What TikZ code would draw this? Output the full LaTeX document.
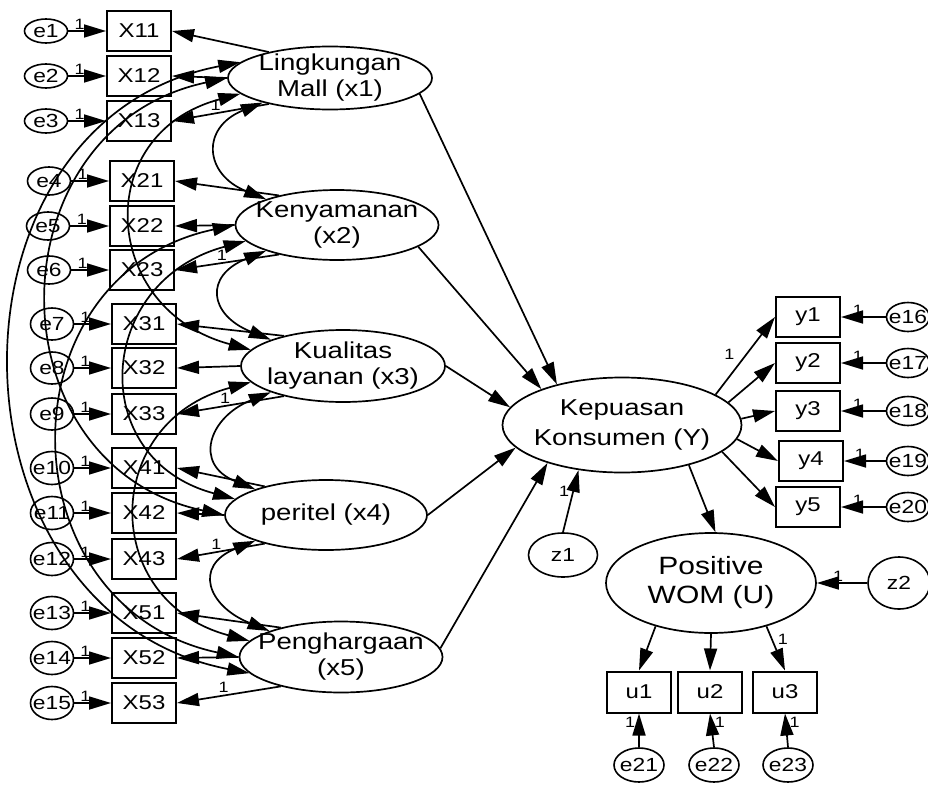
\documentclass[tikz,border=0pt]{standalone}
\usepackage{fontspec}
\setmainfont{Liberation Sans}[FakeStretch=1.2]
\usetikzlibrary{shapes.geometric,arrows.meta,positioning}
\tikzset{
  amos/.tip={Triangle[length=22pt,width=13pt]},
  arr/.style={-amos},
  cov/.style={amos-amos},
  obs/.style={draw,rectangle,minimum width=64pt,minimum height=40pt,inner sep=0pt,line width=2pt,font=\fontsize{20}{22}\selectfont},
  err/.style={draw,ellipse,minimum width=43pt,minimum height=30pt,inner sep=0pt,line width=1.6pt},
  lat/.style={draw,ellipse,inner sep=0pt,line width=1.7pt},
  etxt/.style={font=\fontsize{19}{21}\selectfont,inner sep=0pt},
  lattxt/.style={font=\fontsize{23}{26}\selectfont,align=center,inner sep=0pt},
  one/.style={font=\fontsize{15}{15}\selectfont,inner sep=0pt},
}
\begin{document}
\begin{tikzpicture}[x=1pt,y=-1pt,line width=1.7pt]
\useasboundingbox (0,0) rectangle (928,784);
\clip (0,0) rectangle (928,784);

% error terms of X indicators
\foreach \n/\x/\y/\h in {1/46/31/24,2/46/76/24,3/46/121/24,4/49/181/28,5/48/226/28,6/49/270/28,
  7/52/324/32,8/52/368/32,9/52/414/32,10/52/468/33,11/52/513/33,12/52/559/33,13/52/613/33,14/52/658/33,15/52/703/33}
  \node[err,minimum height=\h pt,label={[etxt]center:e\n}] (e\n) at (\x,\y) {};

% X indicators
\foreach \n/\x/\y in {11/139/31,12/139/76,13/139/121,21/142/181,22/142/226,23/142/270,
  31/144/324,32/144/368,33/144/414,41/144/468,42/144/513,43/144/559,51/144/613,52/144/658,53/144/703}
  \node[obs] (X\n) at (\x,\y) {X\n};

\foreach \e/\X in {1/11,2/12,3/13,4/21,5/22,6/23,7/31,8/32,9/33,10/41,11/42,12/43,13/51,14/52,15/53}
  \draw[arr] (e\e) -- (X\X) node[one,pos=0.3,above=1pt] {1};

% exogenous latents
\node[lat,minimum width=204pt,minimum height=63pt,label={[lattxt]center:Lingkungan\\Mall (x1)}] (x1) at (330,78) {};
\node[lat,minimum width=203pt,minimum height=70pt,label={[lattxt]center:Kenyamanan\\(x2)}] (x2) at (337,225) {};
\node[lat,minimum width=204pt,minimum height=72pt,label={[lattxt]center:Kualitas\\layanan (x3)}] (x3) at (343,366) {};
\node[lat,minimum width=202pt,minimum height=70pt,label={[lattxt]center:peritel (x4)}] (x4) at (326,515) {};
\node[lat,minimum width=203pt,minimum height=71pt,label={[lattxt]center:Penghargaan\\(x5)}] (x5) at (341,657) {};

% loadings
\draw[arr] (x1.157) -- (X11.east);
\draw[arr] (x1.west) -- (X12.east);
\draw[arr] (x1.203) -- (X13.east) node[one,pos=0.55,above=2pt] {1};
\draw[arr] (x2.153) -- (X21.east);
\draw[arr] (x2.west) -- (X22.east);
\draw[arr] (x2.207) -- (X23.east) node[one,pos=0.55,above=2pt] {1};
\draw[arr] (x3.153) -- (X31.east);
\draw[arr] (x3.west) -- (X32.east);
\draw[arr] (x3.207) -- (X33.east) node[one,pos=0.55,above=2pt] {1};
\draw[arr] (x4.155) -- (X41.east);
\draw[arr] (x4.west) -- (X42.east);
\draw[arr] (x4.205) -- (X43.east) node[one,pos=0.55,above=2pt] {1};
\draw[arr] (x5.154) -- (X51.east);
\draw[arr] (x5.west) -- (X52.east);
\draw[arr] (x5.206) -- (X53.east) node[one,pos=0.55,above=2pt] {1};

% covariances
\foreach \i/\j/\a/\b/\s/\t in {1/2/62/25/200/160,2/3/62/25/200/160,3/4/62/25/200/160,4/5/62/25/200/160,
  1/3/150/40/190/170,2/4/150/40/190/170,3/5/150/40/190/170,
  1/4/235/50/180/180,2/5/235/50/180/180,
  1/5/310/60/170/190}
  \draw[cov] (x\i.\s) .. controls +(-\a,\b) and +(-\a,-\b) .. (x\j.\t);

% endogenous latents
\node[lat,minimum width=239pt,minimum height=95pt,label={[lattxt,font=\fontsize{23}{30}\selectfont]center:Kepuasan\\Konsumen (Y)}] (Y) at (622,425) {};
\node[lat,minimum width=210pt,minimum height=100pt,label={[lattxt,font=\fontsize{25}{29}\selectfont]center:Positive\\WOM (U)}] (U) at (711,583) {};
\node[err,minimum width=69pt,minimum height=44pt,label={[etxt]center:z1}] (z1) at (563,555) {};
\node[err,minimum width=62pt,minimum height=52pt,label={[etxt]center:z2}] (z2) at (899,583) {};

\draw[arr] (x1.350) -- (Y.148);
\draw[arr] (x2.345) -- (Y.156);
\draw[arr] (x3.east) -- (Y.171);
\draw[arr] (x4.east) -- (Y.192);
\draw[arr] (x5.5) -- (Y.207);

% Y indicators
\foreach \n/\x/\y in {1/808/317,2/808/363,3/808/411,4/811/461,5/808/507}
  \node[obs] (y\n) at (\x,\y) {y\n};
\foreach \n/\y in {16/317,17/363,18/411,19/461,20/507}
  \node[err,minimum height=29pt,label={[etxt]center:e\n}] (e\n) at (908,\y) {};
\foreach \e/\n in {16/1,17/2,18/3,19/4,20/5}
  \draw[arr] (e\e) -- (y\n) node[one,pos=0.62,above=1pt] {1};

\draw[arr] (Y.18) -- (y1.west) node[one,pos=0.38,above left=5pt and 3pt] {1};
\draw[arr] (Y.12) -- (y2.west);
\draw[arr] (Y.3) -- (y3.west);
\draw[arr] (Y.353) -- (y4.west);
\draw[arr] (Y.345) -- (y5.west);

\draw[arr] (z1.north) -- (Y.226) node[one,pos=0.65,left=3pt] {1};
\draw[arr] (Y.329) -- (U.85);
\draw[arr] (z2.west) -- (U.east) node[one,pos=0.58,above=1pt] {1};

% U indicators
\node[obs,minimum height=41pt] (u1) at (639,692) {u1};
\node[obs,minimum height=41pt] (u2) at (710,692) {u2};
\node[obs,minimum height=41pt] (u3) at (785,692) {u3};
\node[err,minimum width=50pt,minimum height=34pt,label={[etxt]center:e21}] (e21) at (639,765) {};
\node[err,minimum width=50pt,minimum height=34pt,label={[etxt]center:e22}] (e22) at (714,765) {};
\node[err,minimum width=50pt,minimum height=34pt,label={[etxt]center:e23}] (e23) at (788,765) {};

\draw[arr] (U.218) -- (u1.north);
\draw[arr] (U.south) -- (u2.north);
\draw[arr] (U.322) -- (u3.north) node[one,pos=0.3,right=5pt] {1};
\draw[arr] (e21.north) -- (u1.south) node[one,pos=0.75,left=3pt] {1};
\draw[arr] (e22.north) -- (u2.south) node[one,pos=0.75,right=3pt] {1};
\draw[arr] (e23.north) -- (u3.south) node[one,pos=0.75,right=3pt] {1};
\end{tikzpicture}
\end{document}
